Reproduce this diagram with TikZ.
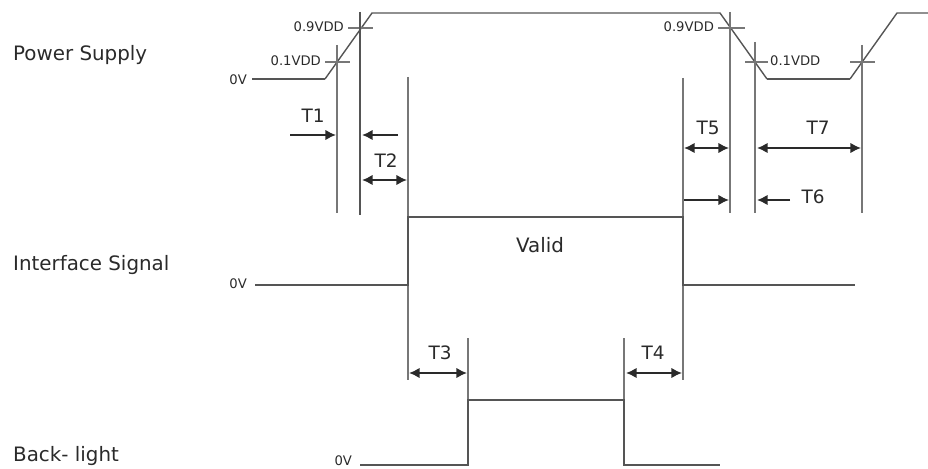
\documentclass[tikz,border=0pt]{standalone}
\usepackage{fontspec}
\setmainfont{DejaVu Sans}
\usetikzlibrary{arrows.meta}

\definecolor{wire}{HTML}{555555}
\definecolor{ink}{HTML}{2A2A2A}

\begin{document}
\begin{tikzpicture}[x=0.02cm,y=-0.02cm,
	wave/.style={draw=wire, line width=0.8pt},
	base/.style={draw=wire, line width=1.5pt},
	guide/.style={draw=wire!80, line width=0.6pt},
	dim/.style={draw=ink, line width=1.1pt},
	tip/.style={-{Latex[length=6pt,width=6pt]}},
	tips/.style={{Latex[length=6pt,width=6pt]}-{Latex[length=6pt,width=6pt]}},
	lbl/.style={text=ink, font=\fontsize{11.3}{13}\selectfont},
	tname/.style={text=ink, font=\fontsize{10.5}{12}\selectfont},
	lvl/.style={text=ink, font=\fontsize{7.5}{9}\selectfont, inner sep=1pt}]

	\useasboundingbox (0,0) rectangle (928,469);

	%signal names
	\node[lbl, anchor=west] (psname) at (7,55) {Power Supply};
	\node[lbl, anchor=west] (ifname) at (7,265) {Interface Signal};
	\node[lbl, anchor=west] (blname) at (7,456) {Back- light};

	%power supply
	\draw[wave] (325,79) -- (372,13) -- (720,13) -- (767,79);
	\draw[wave] (850,79) -- (897,13) -- (928,13);
	\draw[base] (252,79) -- (325,79);
	\draw[base] (767,79) -- (850,79);
	\node[lvl, anchor=east] (ps0v) at (249,80) {0V};
	\node[lvl, anchor=east] (up10) at (323,61) {0.1VDD};
	\node[lvl, anchor=east] (up90) at (346,27) {0.9VDD};
	\node[lvl, anchor=east] (dn90) at (716,27) {0.9VDD};
	\node[lvl, anchor=west] (dn10) at (768,61) {0.1VDD};

	%level crossings
	\draw[guide] (325,62) -- (350,62);
	\draw[guide] (348,28) -- (373,28);
	\draw[guide] (718,28) -- (745,28);
	\draw[guide] (745,62) -- (768,62);
	\draw[guide] (850,62) -- (875,62);

	%time markers
	\draw[guide] (337,45) -- (337,213);
	\draw[draw=wire, line width=1.3pt] (360,12) -- (360,215);
	\draw[guide] (408,77) -- (408,380);
	\draw[guide] (683,78) -- (683,380);
	\draw[guide] (730,12) -- (730,213);
	\draw[guide] (755,42) -- (755,213);
	\draw[guide] (862,45) -- (862,213);
	\draw[guide] (468,338) -- (468,400);
	\draw[guide] (624,338) -- (624,400);

	%interface signal
	\draw[wave] (255,285) -- (408,285) -- (408,217) -- (683,217) -- (683,285) -- (855,285);
	\node[lvl, anchor=east] (if0v) at (249,284) {0V};
	\node[lbl] (valid) at (540,245) {Valid};

	%back light
	\draw[wave] (360,465) -- (468,465) -- (468,400) -- (624,400) -- (624,465) -- (720,465);
	\node[lvl, anchor=east] (bl0v) at (354,461) {0V};

	%timing arrows
	\draw[dim, tip] (290,135) -- (336,135);
	\draw[dim, tip] (398,135) -- (362,135);
	\draw[dim, tips] (362,180) -- (407,180);
	\draw[dim, tips] (684,148) -- (729,148);
	\draw[dim, tip] (684,200) -- (729,200);
	\draw[dim, tip] (790,200) -- (757,200);
	\draw[dim, tips] (757,148) -- (861,148);
	\draw[dim, tips] (409,373) -- (467,373);
	\draw[dim, tips] (626,373) -- (682,373);

	%timing names
	\node[tname] (t1) at (313,116) {T1};
	\node[tname] (t2) at (386,161) {T2};
	\node[tname] (t3) at (440,353) {T3};
	\node[tname] (t4) at (653,353) {T4};
	\node[tname] (t5) at (708,128) {T5};
	\node[tname] (t6) at (813,197) {T6};
	\node[tname] (t7) at (818,128) {T7};

\end{tikzpicture}
\end{document}
